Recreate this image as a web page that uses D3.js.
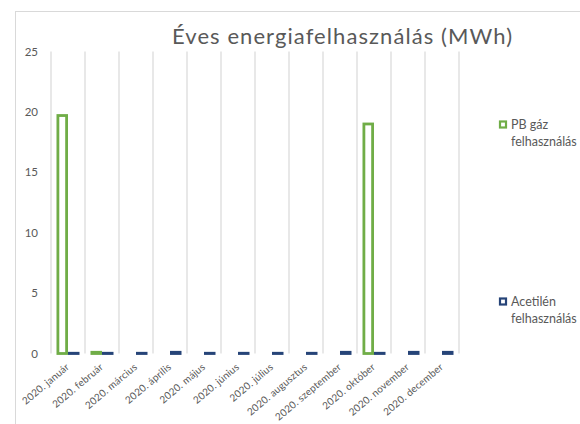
<!DOCTYPE html>
<html><head><meta charset="utf-8">
<script src="https://cdn.jsdelivr.net/npm/d3@7"></script>
<style>html,body{margin:0;padding:0;background:#fff;overflow:hidden}</style>
</head><body>
<svg id="c" width="580" height="424"></svg>
<script>
const categories = ["2020. január","2020. február","2020. március","2020. április","2020. május","2020. június","2020. július","2020. augusztus","2020. szeptember","2020. október","2020. november","2020. december"];
const pbGas = [19.7, 0.1, null, null, null, null, null, null, null, 19.0, null, null];
const acetylene = [0.02, 0.02, 0.02, 0.1, 0.02, 0.02, 0.02, 0.02, 0.1, 0.02, 0.1, 0.1];
const seriesNames = ["PB gáz felhasználás", "Acetilén felhasználás"];
const yTicks = [0, 5, 10, 15, 20, 25];
const title = "Éves energiafelhasználás (MWh)";

const colors = ["#70AD47", "#264478"];
const font = "Lato, Carlito, Calibri, sans-serif";
const textCol = "#595959";
const svg = d3.select("#c");

// chart border
svg.append("rect").attr("x",15.5).attr("y",11.5).attr("width",600).attr("height",450)
  .attr("fill","none").attr("stroke","#d9d9d9").attr("stroke-width",1);

const x = d3.scaleBand().domain(categories).range([51, 459]).paddingInner(0).paddingOuter(0);
const sub = d3.scaleBand().domain([0,1]).range([0, x.bandwidth()]).paddingInner(0).paddingOuter(0.478);
const y = d3.scaleLinear().domain([0, 25]).range([353.5, 51.5]);

// vertical gridlines at category boundaries
const bounds = categories.map(c => x(c)).concat([x(categories[categories.length-1]) + x.bandwidth()]);
svg.append("g").selectAll("line").data(bounds).join("line")
  .attr("x1", d => d).attr("x2", d => d).attr("y1", y(25)).attr("y2", y(0))
  .attr("stroke", "#d9d9d9").attr("stroke-width", 1.2);

// y axis labels
svg.append("g").selectAll("text").data(yTicks).join("text")
  .attr("x", 38).attr("y", d => y(d)).attr("dy", "0.35em")
  .attr("text-anchor", "end").attr("font-family", font).attr("font-size", 11.5)
  .attr("fill", textCol).text(d => d);

// bars
const sw = 2.8;
[pbGas, acetylene].forEach((vals, si) => {
  const data = categories.map((c, i) => ({c, v: vals[i]})).filter(d => d.v != null);
  svg.append("g").selectAll("rect").data(data).join("rect")
    .attr("x", d => x(d.c) + sub(si) + sw/2)
    .attr("width", sub.bandwidth() - sw)
    .attr("y", d => y(d.v))
    .attr("height", d => y(0) - y(d.v))
    .attr("fill", "#fff").attr("stroke", colors[si]).attr("stroke-width", sw);
});

// x labels
svg.append("g").selectAll("text").data(categories).join("text")
  .attr("transform", d => `translate(${x(d) + x.bandwidth()/2 + 2},${368}) rotate(-40)`)
  .attr("text-anchor", "end").attr("font-family", font).attr("font-size", 10)
  .attr("letter-spacing", 0.2)
  .attr("fill", textCol).text(d => d);

// title
svg.append("text").attr("x", 342).attr("y", 44).attr("text-anchor", "middle")
  .attr("font-family", font).attr("font-size", 22)
  .attr("textLength", 340).attr("lengthAdjust", "spacing")
  .attr("fill", textCol).text(title);

// legend
const legY = [121, 298];
seriesNames.forEach((name, i) => {
  const g = svg.append("g");
  g.append("rect").attr("x", 500).attr("y", legY[i] + 0.5).attr("width", 6).attr("height", 6)
    .attr("fill", "#fff").attr("stroke", colors[i]).attr("stroke-width", 2.2);
  const parts = name.split(" ");
  const line1 = parts.slice(0, parts.length - 1).join(" ");
  const line2 = parts[parts.length - 1];
  const t = g.append("text").attr("font-family", font).attr("font-size", 12.5).attr("fill", textCol);
  t.append("tspan").attr("x", 511).attr("y", legY[i] + 7.5).text(line1);
  t.append("tspan").attr("x", 511).attr("y", legY[i] + 25).text(line2);
});
</script>
</body></html>
